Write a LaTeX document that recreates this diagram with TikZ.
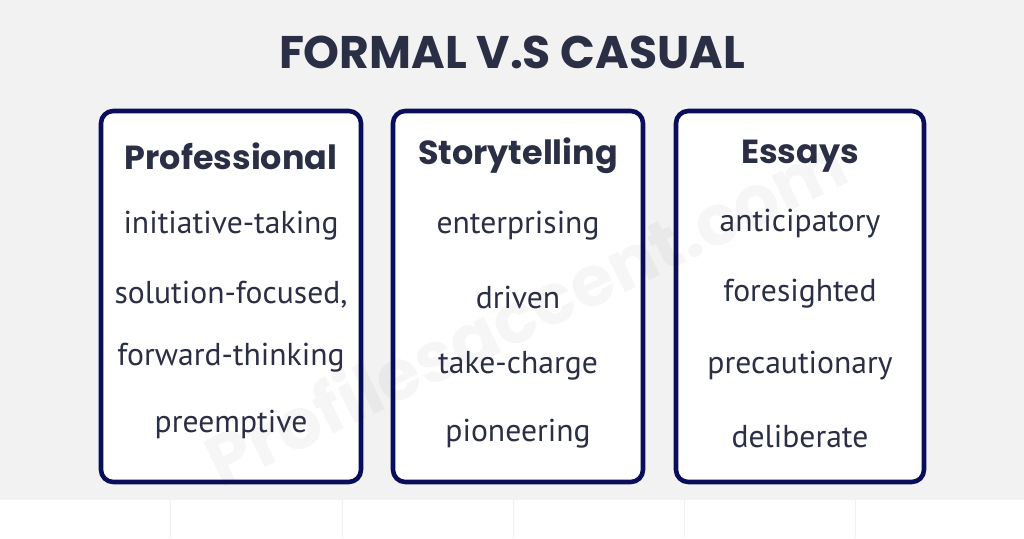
\documentclass[tikz,border=0pt]{standalone}
\usepackage{fontspec}
\setmainfont{PT Sans}
\newfontfamily\pop{Poppins}[UprightFont=* Bold]
\definecolor{navy}{HTML}{0A0E5A}
\definecolor{ink}{HTML}{2B2F45}
\definecolor{bg}{HTML}{F2F2F2}
\begin{document}
\begin{tikzpicture}[x=0.02cm,y=-0.02cm,
 box/.style={draw=navy,line width=2.6pt,rounded corners=7pt,fill=white},
 head/.style={font=\pop\fontsize{19}{20}\selectfont,text=ink},
 item/.style={font=\fontsize{18}{19}\selectfont,text=ink}]
\useasboundingbox (0,0) rectangle (1024,538);
\fill[bg] (0,0) rectangle (1024,500);
\foreach \x in {170,342,513,684,855} \draw[black!6,line width=0.5pt] (\x,500) -- (\x,538);
\node[font=\pop\fontsize{26}{27}\selectfont,text=ink] (title) at (512,52) {FORMAL V.S CASUAL};
\draw[box] (101,111) rectangle (361,482);
\draw[box] (393,111) rectangle (643,482);
\draw[box] (676,111) rectangle (924,482);
\node[font=\pop\fontsize{40}{42}\selectfont,text=black,opacity=0.035,rotate=26] (wm) at (525,310) {Profilesaccent.com};
\node[head] (h1) at (231,156) {Professional};
\node[item] (a1) at (231,226) {initiative-taking};
\node[item] (a2) at (231,295) {solution-focused,};
\node[item] (a3) at (231,358) {forward-thinking};
\node[item] (a4) at (231,424) {preemptive};
\node[head] (h2) at (518,156) {Storytelling};
\node[item] (b1) at (518,226) {enterprising};
\node[item] (b2) at (518,297) {driven};
\node[item] (b3) at (518,366) {take-charge};
\node[item] (b4) at (518,434) {pioneering};
\node[head] (h3) at (800,156) {Essays};
\node[item] (c1) at (800,224) {anticipatory};
\node[item] (c2) at (800,294) {foresighted};
\node[item] (c3) at (800,366) {precautionary};
\node[item] (c4) at (800,436) {deliberate};
\end{tikzpicture}
\end{document}
